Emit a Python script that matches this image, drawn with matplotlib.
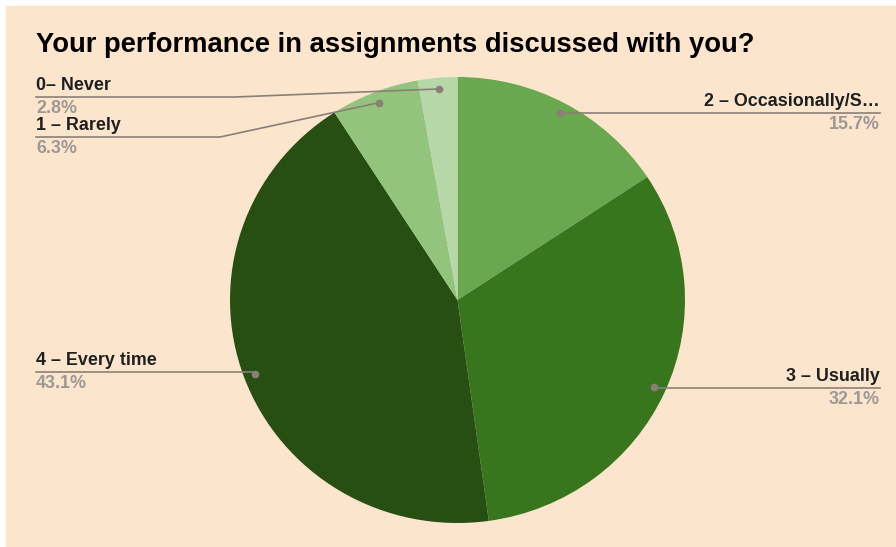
import matplotlib.pyplot as plt
import numpy as np

# data, in clockwise order from 12 o'clock
labels = ['2 – Occasionally/S…', '3 – Usually', '4 – Every time', '1 – Rarely', '0– Never']
values = [15.7, 32.1, 43.1, 6.3, 2.8]
colors = ['#6aa84f', '#38761d', '#274e13', '#93c47d', '#b6d7a8']
title = 'Your performance in assignments discussed with you?'

W, H = 896, 547
bg = '#fce5cd'
s = 223 / 227.5  # pie is slightly wider than tall in the reference

fig = plt.figure(figsize=(W / 100, H / 100), dpi=100)
fig.patch.set_facecolor('white')
ax = fig.add_axes([0, 0, 1, 1])

def Y(py):
    return (H - py) / s

# peach panel
ax.add_patch(plt.Rectangle((6, Y(547)), W - 6, 541 / s, color=bg, zorder=0))

cx, cy, r = 457.5, Y(300), 227.5
ax.pie(values, colors=colors, startangle=90, counterclock=False,
       center=(cx, cy), radius=r, frame=True,
       wedgeprops=dict(linewidth=0))
ax.set_aspect('auto')
ax.set_xlim(0, W)
ax.set_ylim(0, H / s)
ax.axis('off')

font = ['Liberation Sans', 'DejaVu Sans']
ax.text(36, Y(45), title, fontsize=19.7, fontweight='bold', family=font,
        va='center', ha='left', color='#000000')

# label layout: (text x, line y, side, elbow x)
layout = {
    '0– Never': (36, 97, 'left', 235),
    '1 – Rarely': (36, 137, 'left', 220),
    '2 – Occasionally/S…': (880, 113, 'right', None),
    '3 – Usually': (880, 388, 'right', None),
    '4 – Every time': (36, 372, 'left', None),
}

line_c = '#8a7f77'
total = sum(values)
start = 0
for lab, v in zip(labels, values):
    mid = (start + v / 2) / total * 2 * np.pi
    start += v
    dx = cx + 0.95 * r * np.sin(mid)
    dy = cy + 0.95 * r * np.cos(mid)
    tx, ly, side, elbow = layout[lab]
    ax.plot(dx, dy, 'o', ms=4.5, color=line_c, zorder=5)
    if elbow is None:
        ax.plot([tx, dx], [Y(ly), Y(ly)], color=line_c, lw=1.2, zorder=4)
    else:
        ax.plot([tx, elbow, dx], [Y(ly), Y(ly), dy], color=line_c, lw=1.2, zorder=4)
    ha = 'left' if side == 'left' else 'right'
    ax.text(tx, Y(ly - 3), lab, fontsize=12.9, fontweight='bold', family=font,
            ha=ha, va='bottom', color='#1f1f1f')
    ax.text(tx, Y(ly + 3), f'{v}%', fontsize=12.9, fontweight='bold', family=font,
            ha=ha, va='top', color='#9e9893')

fig.savefig('out.png', dpi=100, facecolor=fig.get_facecolor())
